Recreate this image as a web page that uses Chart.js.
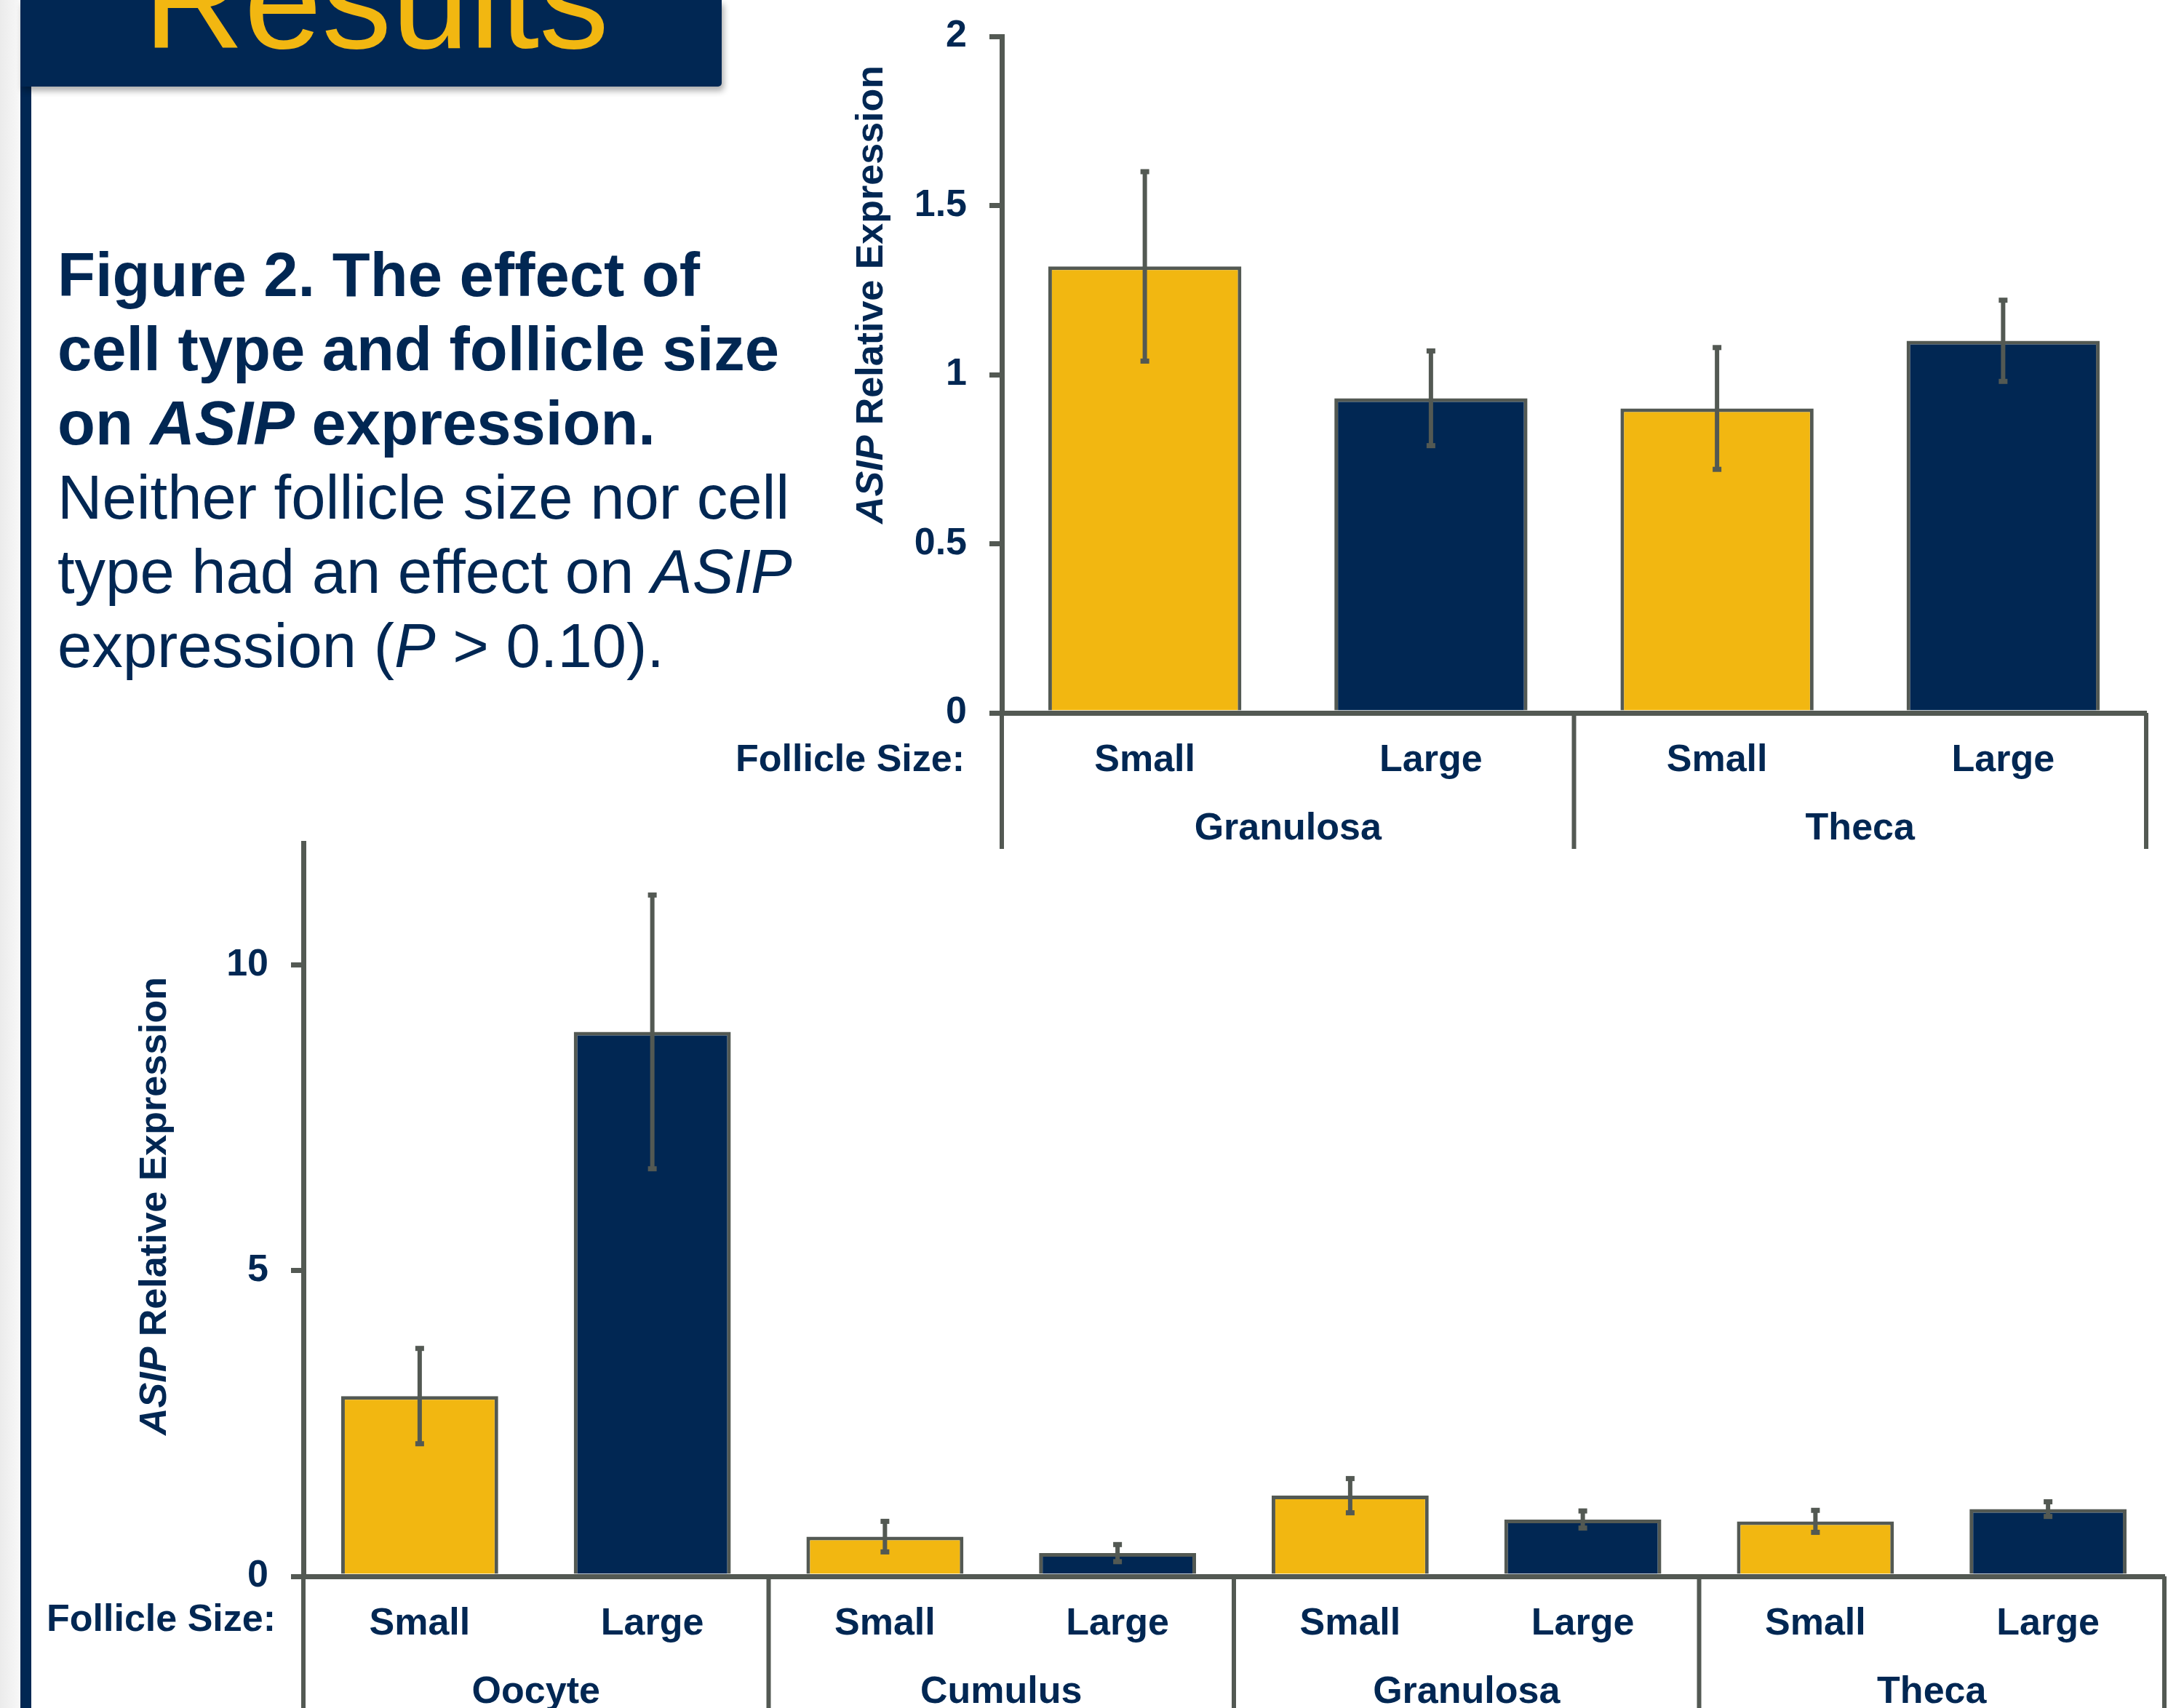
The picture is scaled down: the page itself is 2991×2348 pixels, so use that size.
<!DOCTYPE html>
<html>
<head>
<meta charset="utf-8">
<script src="https://cdn.jsdelivr.net/npm/chart.js@4.4.1/dist/chart.umd.min.js"></script>
<style>
html,body{margin:0;padding:0;background:#ffffff;}
body{width:2991px;height:2348px;position:relative;overflow:hidden;font-family:"Liberation Sans",Arial,Helvetica,sans-serif;}
#strip{position:absolute;left:0;top:0;width:28px;height:2348px;background:linear-gradient(to right,#ebebeb,#f8f8f8);}
#vbar{position:absolute;left:28px;top:0;width:15px;height:2348px;background:#012753;}
#banner{position:absolute;left:28px;top:0;width:964px;height:119px;background:#012753;border-bottom-right-radius:5px;box-shadow:3px 6px 8px rgba(0,0,0,0.32);}
#bannerText{position:absolute;left:0;top:-96px;width:1034px;text-align:center;font-size:192px;line-height:192px;color:#F2B711;white-space:nowrap;}
#caption{position:absolute;left:79px;top:327px;font-size:85px;line-height:102px;color:#012753;white-space:nowrap;}
canvas{position:absolute;display:block;}
</style>
</head>
<body>
<div id="strip"></div>
<div id="vbar"></div>
<div id="banner"></div>
<div id="bannerText">Results</div>
<div id="caption"><b>Figure 2. The effect of<br>cell type and follicle size<br>on <i>ASIP</i> expression.</b><br>Neither follicle size nor cell<br>type had an effect on <i>ASIP</i><br>expression (<i>P</i> &gt; 0.10).</div>
<canvas id="c1" width="2031" height="1200" style="left:960px;top:0px;width:2031px;height:1200px;"></canvas>
<canvas id="c2" width="2991" height="1198" style="left:0px;top:1150px;width:2991px;height:1198px;"></canvas>
<script>
// ---------- data ----------
const topCellTypes = ['Granulosa', 'Theca'];
const topSizes = ['Small', 'Large', 'Small', 'Large'];
const topMeans = [1.32, 0.93, 0.90, 1.10];
const topErrors = [0.28, 0.14, 0.18, 0.12];
const topYTicks = [0, 0.5, 1, 1.5, 2];

const bottomCellTypes = ['Oocyte', 'Cumulus', 'Granulosa', 'Theca'];
const bottomSizes = ['Small', 'Large', 'Small', 'Large', 'Small', 'Large', 'Small', 'Large'];
const bottomMeans = [2.95, 8.91, 0.65, 0.38, 1.32, 0.93, 0.90, 1.10];
const bottomErrors = [0.78, 2.24, 0.25, 0.14, 0.28, 0.14, 0.18, 0.12];
const bottomYTicks = [0, 5, 10];

const rowLabel = 'Follicle Size:';
const titleItalic = 'ASIP';
const titleRest = ' Relative Expression';

// ---------- style ----------
const NAVY = '#012753';
const GOLD = '#F2B711';
const GRAY = '#535953';
const FAMILY = '"Liberation Sans", Arial, Helvetica, sans-serif';
const sizeColor = {Small: GOLD, Large: NAVY};

Chart.defaults.font.family = FAMILY;
Chart.defaults.color = NAVY;

function annotPlugin(o) {
  return {
    id: 'annot',
    afterDraw(chart) {
      const ctx = chart.ctx, ys = chart.scales.y, ca = chart.chartArea;
      const meta = chart.getDatasetMeta(0);
      ctx.save();
      // error bars
      ctx.strokeStyle = GRAY; ctx.fillStyle = GRAY; ctx.lineWidth = 6; ctx.lineCap = 'butt';
      o.means.forEach((m, i) => {
        const x = meta.data[i].x;
        const yT = ys.getPixelForValue(m + o.errs[i]);
        const yB = ys.getPixelForValue(m - o.errs[i]);
        ctx.beginPath(); ctx.moveTo(x, yT); ctx.lineTo(x, yB); ctx.stroke();
        ctx.fillRect(x - 6, yT - 3.5, 12, 7);
        ctx.fillRect(x - 6, yB - 3.5, 12, 7);
      });
      // group separators
      const axisY = ca.bottom;
      const per = o.means.length / o.groups.length;
      const bounds = [ca.left];
      for (let g = 1; g < o.groups.length; g++) {
        const i = g * per;
        bounds.push((meta.data[i - 1].x + meta.data[i].x) / 2);
      }
      bounds.push(ca.right);
      ctx.lineWidth = 6;
      bounds.forEach(bx => {
        ctx.beginPath(); ctx.moveTo(bx, axisY); ctx.lineTo(bx, axisY + o.sepLen); ctx.stroke();
      });
      // group labels
      ctx.fillStyle = NAVY;
      ctx.font = 'bold 52px ' + FAMILY;
      ctx.textAlign = 'center'; ctx.textBaseline = 'alphabetic';
      o.groups.forEach((g, k) => ctx.fillText(g, (bounds[k] + bounds[k + 1]) / 2, axisY + 174));
      // row label
      ctx.textAlign = 'right';
      ctx.fillText(rowLabel, ca.left - o.rowDx, axisY + o.rowDy);
      // y title
      ctx.translate(o.titleX, o.titleY);
      ctx.rotate(-Math.PI / 2);
      const f1 = 'italic bold 52px ' + FAMILY, f2 = 'bold 52px ' + FAMILY;
      ctx.font = f1; const w1 = ctx.measureText(titleItalic).width;
      ctx.font = f2; const w2 = ctx.measureText(titleRest).width;
      const sx = -(w1 + w2) / 2;
      ctx.textAlign = 'left'; ctx.textBaseline = 'middle';
      ctx.font = f1; ctx.fillText(titleItalic, sx, 0);
      ctx.font = f2; ctx.fillText(titleRest, sx + w1, 0);
      ctx.restore();
    }
  };
}

function makeChart(id, sizes, means, yMax, yTicks, pad, yWidth, xHeight, annot) {
  return new Chart(document.getElementById(id), {
    type: 'bar',
    data: {
      labels: sizes,
      datasets: [{
        data: means,
        backgroundColor: sizes.map(s => sizeColor[s]),
        borderColor: GRAY,
        borderWidth: 5,
        barPercentage: 0.675,
        categoryPercentage: 1.0
      }]
    },
    options: {
      responsive: false,
      maintainAspectRatio: false,
      animation: false,
      devicePixelRatio: 1,
      layout: {padding: pad},
      plugins: {legend: {display: false}, tooltip: {enabled: false}},
      scales: {
        x: {
          type: 'category',
          offset: true,
          grid: {display: false, drawTicks: false},
          border: {display: true, color: GRAY, width: 7, z: 1},
          ticks: {color: NAVY, font: {size: 52, weight: 'bold'}, padding: 34, maxRotation: 0, autoSkip: false},
          afterFit(scale) {
            scale.height = xHeight;
            scale.paddingLeft = 0; scale.paddingRight = 0;
          }
        },
        y: {
          min: 0,
          max: yMax,
          grid: {display: true, drawOnChartArea: false, drawTicks: true, tickLength: 17, color: GRAY, lineWidth: 7},
          border: {display: true, color: GRAY, width: 7},
          ticks: {color: NAVY, font: {size: 52, weight: 'bold'}, padding: 31, callback: v => String(v)},
          afterBuildTicks(scale) { scale.ticks = yTicks.map(v => ({value: v})); },
          afterFit(scale) {
            scale.width = yWidth;
            scale.paddingTop = 0; scale.paddingBottom = 0;
          }
        }
      }
    },
    plugins: [annotPlugin(annot)]
  });
}

makeChart('c1', topSizes, topMeans, 2, topYTicks,
  {top: 50, right: 41, left: 0, bottom: 0}, 417, 220,
  {means: topMeans, errs: topErrors, groups: topCellTypes, sepLen: 187, rowDx: 51, rowDy: 80, titleX: 239, titleY: 405});

makeChart('c2', bottomSizes, bottomMeans, 12, bottomYTicks,
  {top: 9, right: 16, left: 0, bottom: 0}, 417, 181,
  {means: bottomMeans, errs: bottomErrors, groups: bottomCellTypes, sepLen: 400, rowDx: 38, rowDy: 75, titleX: 214, titleY: 508});
</script>
</body>
</html>
